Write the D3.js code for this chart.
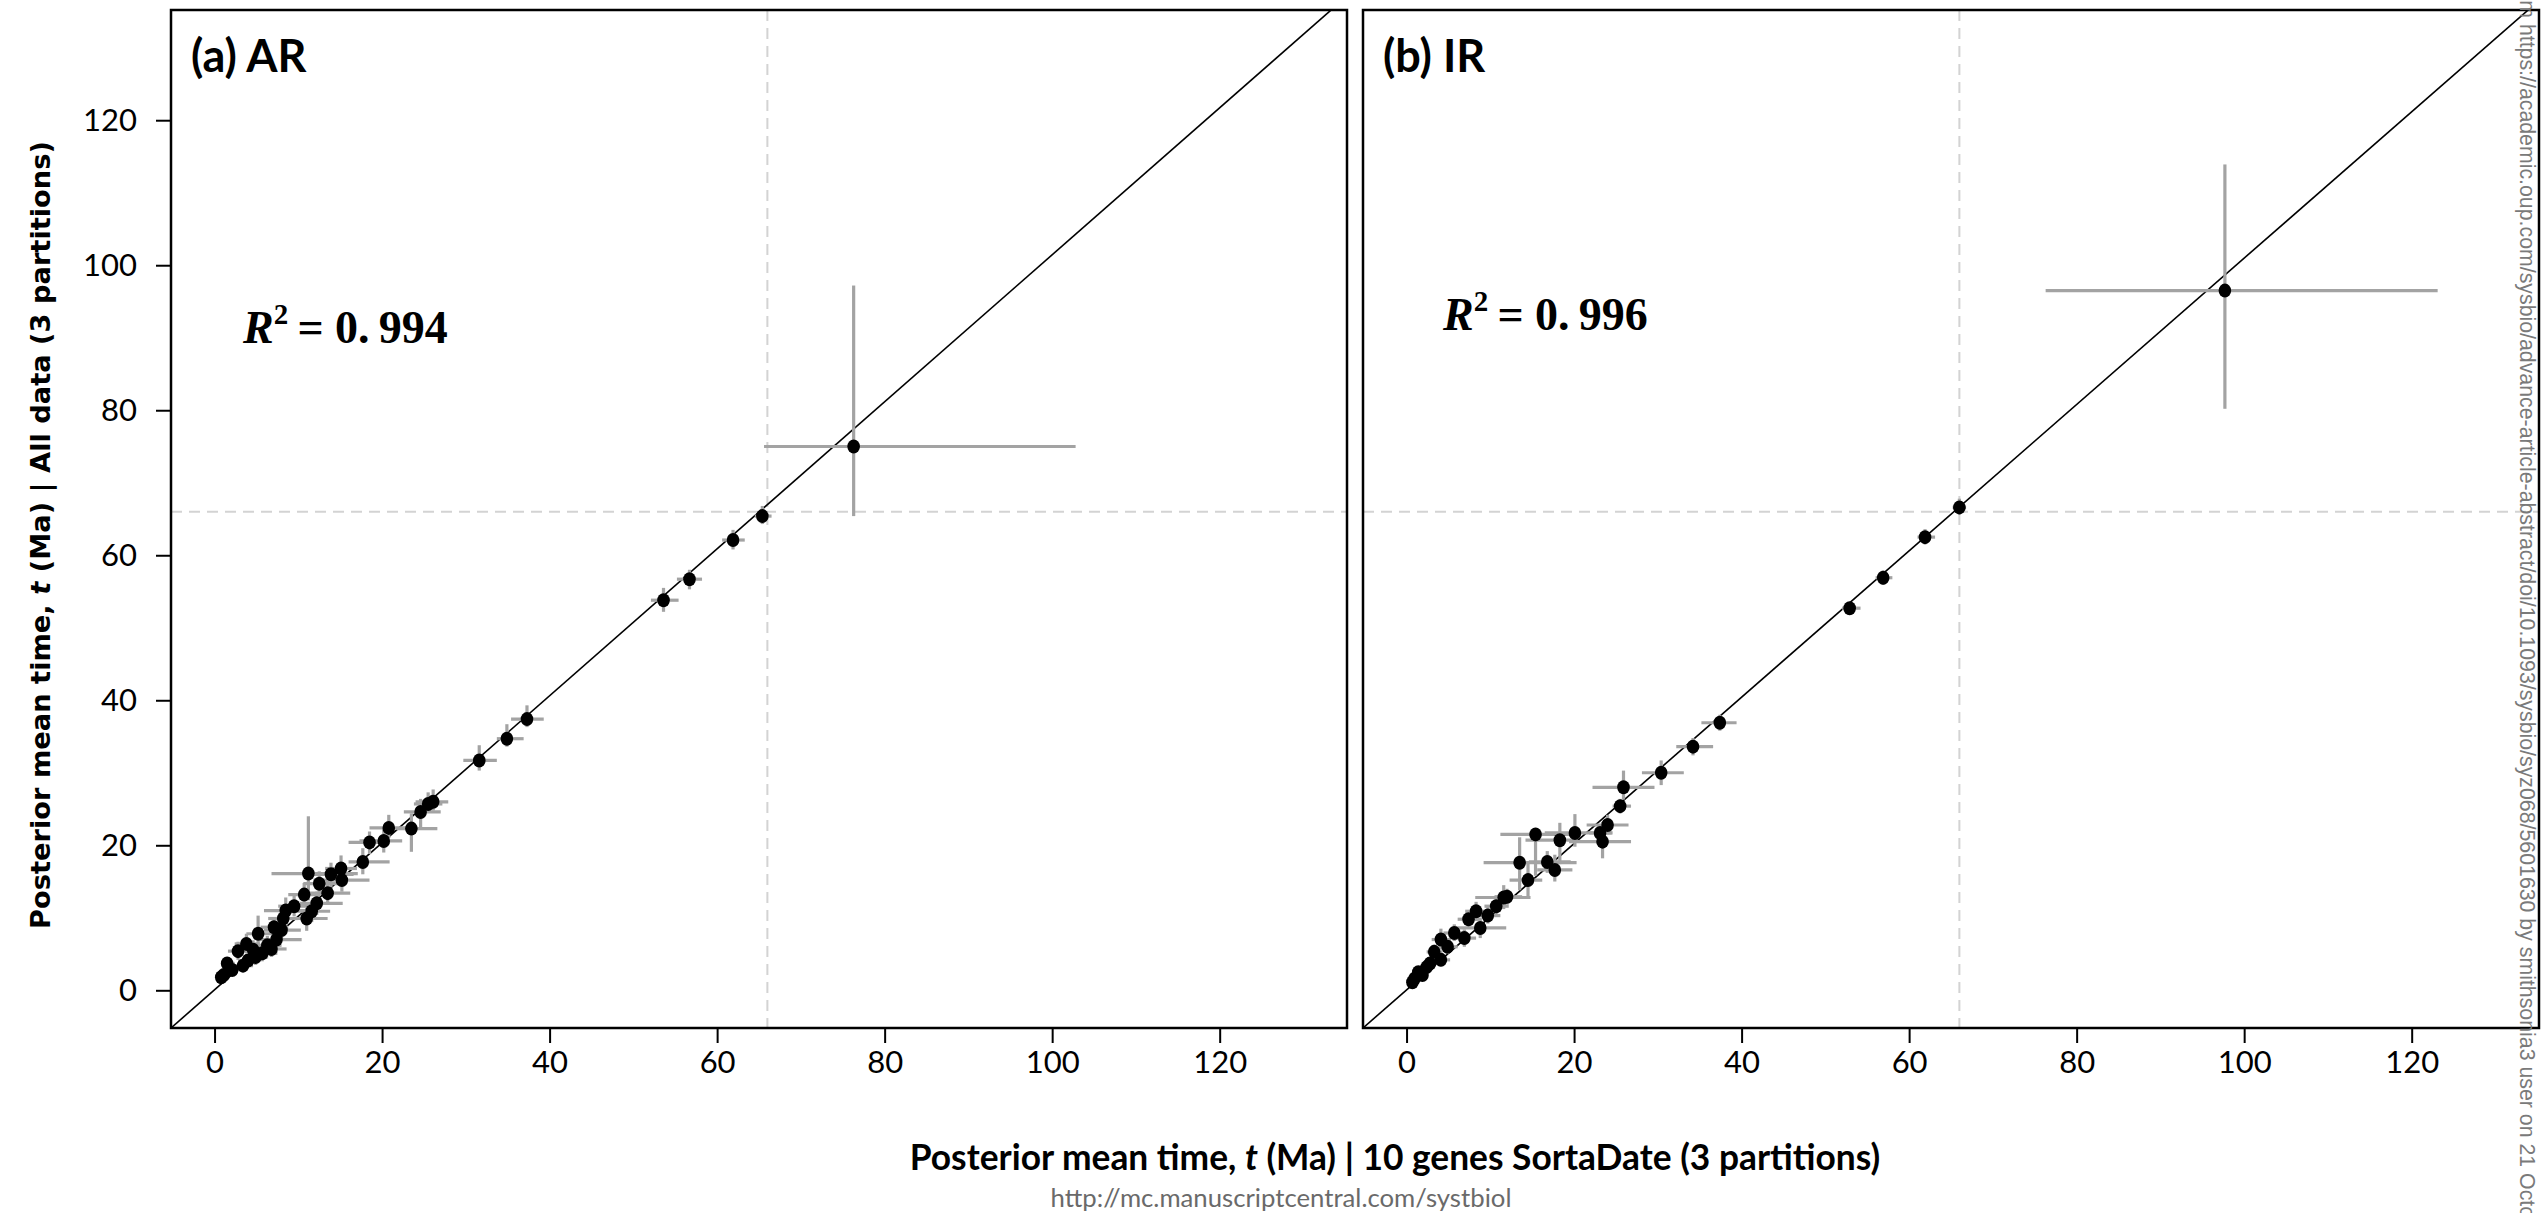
<!DOCTYPE html>
<html><head><meta charset="utf-8">
<script src="https://cdn.jsdelivr.net/npm/d3@7"></script>
<style>body{margin:0;background:#fff}svg{display:block}</style>
</head><body>
<svg id="c" width="2542" height="1213"></svg>
<script>
// ---- data ----
const tickValues = [0, 20, 40, 60, 80, 100, 120];
const panelLabels = ["(a) AR", "(b) IR"];
const r2Values = ["0.994", "0.996"];
const refLine = 66;
// [x, y, xlo, xhi, ylo, yhi]
const arData = [
  [76.3,75.0,65.6,102.8,65.4,97.2],[65.4,65.4,64.5,66.5,64.3,66.8],[61.9,62.1,60.6,63.3,60.8,63.5],
  [56.7,56.7,55.2,58.2,55.3,58.0],[53.6,53.8,52.1,55.4,52.2,55.5],[37.3,37.4,35.4,39.3,36.3,39.3],
  [34.9,34.7,33.7,36.9,33.6,36.7],[31.6,31.7,29.7,33.7,30.3,33.8],[26.1,26.0,24.0,27.9,24.8,27.7],
  [25.5,25.7,23.8,27.2,24.5,27.3],[24.6,24.6,22.6,27.0,22.5,26.4],[23.5,22.3,21.7,26.6,19.1,24.4],
  [20.8,22.4,18.5,23.2,21.0,24.2],[20.2,20.6,17.3,22.4,19.0,22.2],[18.5,20.4,16.0,20.9,18.8,21.9],
  [17.7,17.7,16.0,20.9,16.0,19.6],[11.2,16.1,6.8,17.1,12.4,24.0],[13.9,16.0,11.8,16.6,14.2,17.6],
  [15.1,16.8,13.2,17.0,15.0,18.6],[15.2,15.2,11.8,18.5,13.6,16.8],[12.5,14.7,10.6,14.8,13.2,16.4],
  [13.5,13.4,11.0,16.2,11.8,15.2],[10.7,13.2,8.8,12.6,11.6,14.8],[12.2,12.0,10.2,15.3,10.4,13.6],
  [9.5,11.6,7.6,11.2,10.2,13.2],[8.5,11.0,5.9,12.5,9.5,12.8],[11.6,10.9,9.8,13.8,9.4,12.2],
  [11.0,9.9,9.1,13.5,8.2,11.3],[8.2,9.9,6.4,10.0,8.4,11.4],[8.0,8.3,5.9,10.3,6.9,9.7],
  [7.1,8.7,5.5,8.8,7.3,10.0],[5.2,7.8,3.8,7.9,5.1,10.3],[7.4,7.0,5.1,10.4,5.7,8.4],
  [6.3,6.2,4.6,8.0,5.0,7.5],[3.8,6.4,2.4,5.4,5.1,7.8],[2.8,5.4,1.6,4.2,4.2,6.7],
  [4.6,5.6,3.1,6.3,4.4,6.9],[5.7,5.1,4.0,7.5,4.0,6.3],[4.9,4.6,3.5,6.4,3.5,5.8],
  [3.4,3.4,2.3,4.6,2.5,4.4],[1.5,3.7,0.8,2.4,2.9,4.6],[1.1,2.1,0.6,1.7,1.5,2.8],
  [2.1,2.8,1.3,3.0,2.1,3.6],[6.8,5.7,5.2,8.6,4.6,6.9],[0.8,1.8,0.4,1.3,1.2,2.4],
  [4.0,4.1,2.8,5.3,3.2,5.0]
];
const irData = [
  [97.7,96.5,76.3,123.1,80.2,113.9],[66.0,66.6,65.2,66.8,65.6,67.8],[61.9,62.5,61.0,63.1,61.5,63.6],
  [56.9,56.9,56.0,58.0,55.9,57.9],[52.9,52.7,52.0,54.2,52.0,53.5],[37.4,36.9,35.2,39.4,35.8,38.0],
  [34.2,33.6,32.2,36.6,32.4,34.8],[30.4,30.0,28.1,33.1,28.3,31.7],[25.9,28.0,22.2,29.6,26.3,30.3],
  [25.5,25.4,24.6,26.8,24.4,26.4],[24.0,22.8,21.5,26.5,21.5,24.2],[23.1,21.7,21.8,24.5,20.8,22.6],
  [23.4,20.5,19.4,26.8,18.2,23.2],[20.1,21.7,16.5,24.6,19.8,24.3],[18.3,20.7,14.2,20.3,17.4,23.1],
  [15.4,21.5,11.2,19.9,15.8,22.4],[13.5,17.6,9.2,20.3,13.8,21.1],[16.8,17.7,14.6,19.6,16.2,19.2],
  [17.7,16.6,15.6,19.8,15.0,18.7],[14.5,15.2,12.3,16.2,13.0,17.5],[11.6,12.8,8.2,14.8,11.2,14.5],
  [12.0,12.9,10.5,13.8,11.8,14.0],[10.7,11.6,9.3,12.2,10.5,12.8],[9.7,10.3,8.2,11.2,9.2,11.6],
  [8.3,10.9,7.0,9.6,9.6,12.2],[7.4,9.8,6.1,8.8,8.6,11.0],[8.8,8.6,5.7,11.9,7.2,10.0],
  [5.7,7.9,4.4,7.0,6.8,9.1],[6.9,7.2,5.5,8.3,6.0,8.4],[4.1,7.0,3.0,5.3,5.6,8.5],
  [4.9,6.0,3.8,6.1,5.0,7.1],[3.3,5.3,2.4,4.3,4.4,6.3],[4.1,4.2,3.1,5.2,3.3,5.1],
  [2.8,3.7,2.0,3.6,3.0,4.5],[2.4,3.2,1.6,3.2,2.5,3.9],[1.4,2.5,0.8,2.1,1.9,3.1],
  [0.95,1.6,0.5,1.5,1.1,2.2],[0.7,1.1,0.3,1.1,0.7,1.6],[1.9,2.1,1.2,2.6,1.5,2.7]
];
// fitted lines [intercept, slope]
const arFit = [0.07, 1.0137];
const irFit = [0.05, 1.0093];

// ---- layout ----
const svg = d3.select("#c");
const domain = [-5.2, 135.2];
const plotTop = 10, plotBottom = 1028;
const panels = [
  {data: arData, fit: arFit, left: 171, right: 1347, label: panelLabels[0], r2: r2Values[0], r2x: 243, r2y: 343, yAxis: true},
  {data: irData, fit: irFit, left: 1363, right: 2539, label: panelLabels[1], r2: r2Values[1], r2x: 1443, r2y: 330, yAxis: false}
];
const y = d3.scaleLinear().domain(domain).range([plotBottom, plotTop]);

panels.forEach((p, i) => {
  const x = d3.scaleLinear().domain(domain).range([p.left, p.right]);
  const g = svg.append("g");
  const clipId = "clip" + i;
  svg.append("clipPath").attr("id", clipId).append("rect")
    .attr("x", p.left).attr("y", plotTop).attr("width", p.right - p.left).attr("height", plotBottom - plotTop);
  const inner = g.append("g").attr("clip-path", `url(#${clipId})`);

  inner.append("line").attr("x1", x(refLine)).attr("x2", x(refLine)).attr("y1", plotTop).attr("y2", plotBottom)
    .attr("stroke", "#d3d3d3").attr("stroke-width", 2).attr("stroke-dasharray", "11,7");
  inner.append("line").attr("x1", p.left).attr("x2", p.right).attr("y1", y(refLine)).attr("y2", y(refLine))
    .attr("stroke", "#d3d3d3").attr("stroke-width", 2).attr("stroke-dasharray", "11,7");

  inner.append("line")
    .attr("x1", x(domain[0])).attr("y1", y(p.fit[0] + p.fit[1] * domain[0]))
    .attr("x2", x(domain[1])).attr("y2", y(p.fit[0] + p.fit[1] * domain[1]))
    .attr("stroke", "#000").attr("stroke-width", 1.6);

  inner.selectAll(".hbar").data(p.data).enter().append("line").attr("class", "hbar")
    .attr("x1", d => x(d[2])).attr("x2", d => x(d[3])).attr("y1", d => y(d[1])).attr("y2", d => y(d[1]))
    .attr("stroke", "#a3a3a3").attr("stroke-width", 3.2);
  inner.selectAll(".vbar").data(p.data).enter().append("line").attr("class", "vbar")
    .attr("x1", d => x(d[0])).attr("x2", d => x(d[0])).attr("y1", d => y(d[4])).attr("y2", d => y(d[5]))
    .attr("stroke", "#a3a3a3").attr("stroke-width", 3.2);
  inner.selectAll(".pt").data(p.data).enter().append("ellipse").attr("class", "pt")
    .attr("cx", d => x(d[0])).attr("cy", d => y(d[1])).attr("rx", 6.3).attr("ry", 7)
    .attr("fill", "#000");

  g.append("rect").attr("x", p.left).attr("y", plotTop).attr("width", p.right - p.left).attr("height", plotBottom - plotTop)
    .attr("fill", "none").attr("stroke", "#000").attr("stroke-width", 2.5);

  const xa = g.append("g").attr("transform", `translate(0,${plotBottom})`)
    .call(d3.axisBottom(x).tickValues(tickValues).tickSize(15).tickPadding(8).tickFormat(d3.format("d")));
  xa.select(".domain").remove();
  xa.selectAll("line").attr("stroke-width", 2);
  xa.selectAll("text").attr("font-family", "Lato, 'Open Sans', sans-serif").attr("font-size", 31).attr("fill", "#000");

  if (p.yAxis) {
    const ya = g.append("g").attr("transform", `translate(${p.left},0)`)
      .call(d3.axisLeft(y).tickValues(tickValues).tickSize(15).tickPadding(19).tickFormat(d3.format("d")));
    ya.select(".domain").remove();
    ya.selectAll("line").attr("stroke-width", 2);
    ya.selectAll("text").attr("font-family", "Lato, 'Open Sans', sans-serif").attr("font-size", 31).attr("fill", "#000");
  }

  g.append("text").attr("x", p.left + 20).attr("y", 72)
    .attr("font-family", "Lato, sans-serif").attr("font-weight", "bold").attr("font-size", 45)
    .text(p.label);

  const rt = g.append("text").attr("x", p.r2x).attr("y", p.r2y)
    .attr("font-family", "'Liberation Serif', 'DejaVu Serif', serif").attr("font-weight", "bold").attr("font-size", 46);
  rt.append("tspan").attr("font-style", "italic").text("R");
  rt.append("tspan").attr("font-size", 29).attr("dy", -19).text("2");
  rt.append("tspan").attr("dy", 19).text("\u2009= 0.\u2009" + p.r2.slice(2));
});

function fit(sel, target) {
  const fs = +sel.attr("font-size");
  const len = sel.node().getComputedTextLength();
  sel.attr("font-size", fs * target / len);
}

const yt = svg.append("text").attr("transform", "translate(40,535) rotate(-90)")
  .attr("text-anchor", "middle").attr("dominant-baseline", "central")
  .attr("font-family", "'DejaVu Sans', Verdana, sans-serif").attr("font-weight", "bold").attr("font-size", 26);
yt.append("tspan").text("Posterior mean time, ");
yt.append("tspan").attr("font-style", "italic").text("t");
yt.append("tspan").text(" (Ma) | All data (3 partitions)");
fit(yt, 788);

const xt = svg.append("text").attr("x", 1395).attr("y", 1170)
  .attr("text-anchor", "middle")
  .attr("font-family", "Lato, sans-serif").attr("font-weight", "bold").attr("font-size", 34);
xt.append("tspan").text("Posterior mean time, ");
xt.append("tspan").attr("font-style", "italic").text("t");
xt.append("tspan").text(" (Ma) | 10 genes SortaDate (3 partitions)");
fit(xt, 971);

const ut = svg.append("text").attr("x", 1281).attr("y", 1207)
  .attr("text-anchor", "middle")
  .attr("font-family", "Lato, sans-serif").attr("font-size", 24).attr("fill", "#6a6a6a")
  .text("http://mc.manuscriptcentral.com/systbiol");
fit(ut, 461);

// watermark: "https" starts near the top, "... 21 Octo" reaches the bottom edge
const prefix = "Downloaded from ";
const body = "https://academic.oup.com/sysbio/advance-article-abstract/doi/10.1093/sysbio/syz068/5601630 by smithsonia3 user on 21 Octo";
const wmFont = "'Liberation Sans', Arial, sans-serif";
const measure = (s, fs) => {
  const t = svg.append("text").attr("font-family", wmFont).attr("font-size", fs).text(s);
  const w = t.node().getComputedTextLength(); t.remove(); return w;
};
const wmSize = 20 * 1195 / measure(body, 20);
const preLen = measure(prefix, wmSize);
svg.append("text").attr("font-family", wmFont)
  .attr("font-size", wmSize).attr("fill", "#7a7a7a").attr("dominant-baseline", "central")
  .attr("transform", `translate(2527,${18 - preLen}) rotate(90)`)
  .text(prefix + body + "ber 2019");
</script>
</body></html>
